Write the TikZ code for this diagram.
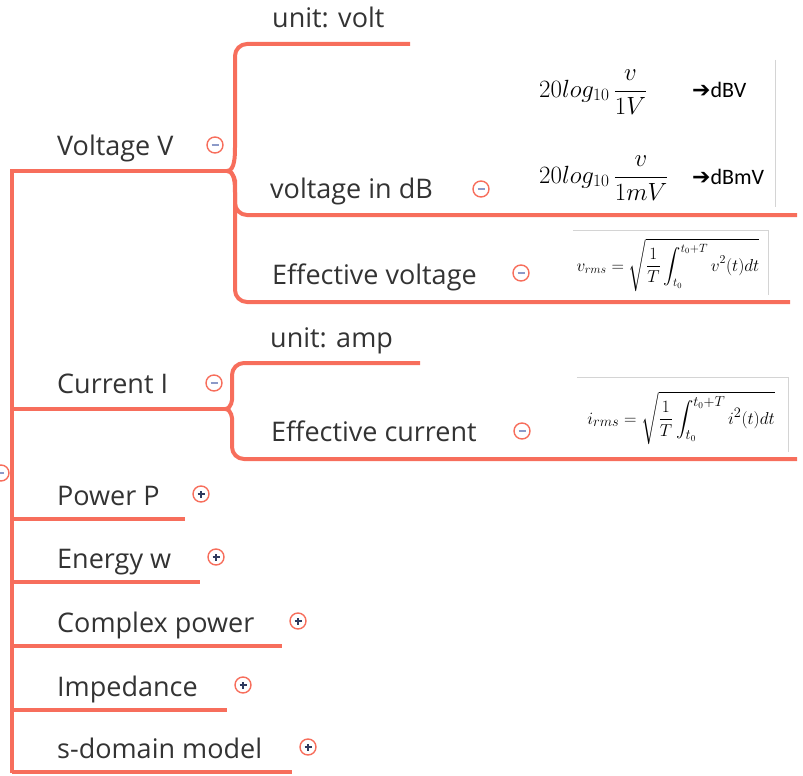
\documentclass[tikz,border=0pt]{standalone}
\usepackage{amsmath}
\usepackage{fontspec}
\setmainfont{Open Sans}
\newfontfamily\calib{Carlito}
\newfontfamily\dejavu{DejaVu Sans}
\usetikzlibrary{positioning,calc}
\definecolor{coral}{HTML}{F76E5C}
\definecolor{ink}{HTML}{333333}
\definecolor{minusc}{HTML}{8C9AC8}
\definecolor{plusc}{HTML}{2F3A5E}
\definecolor{frame}{HTML}{D4D4D4}
\newcommand{\tgminus}{\tikz\draw[minusc,line width=1.6pt] (-3.5pt,0) -- (3.5pt,0);}
\newcommand{\tgplus}{\tikz\draw[plusc,line width=1.4pt] (-3.5pt,0) -- (3.5pt,0) (0,-3.5pt) -- (0,3.5pt);}

\begin{document}
\begin{tikzpicture}[x=1pt,y=-1pt,
 lbl/.style={anchor=base west,inner sep=0pt,text=ink,font=\fontsize{27}{32}\selectfont},
 br/.style={draw=coral,line width=4pt},
 tg/.style={circle,draw=coral,fill=white,line width=1.4pt,minimum size=16pt,inner sep=0pt},
 fm/.style={inner sep=0pt,font=\fontsize{24}{28}\selectfont},
 unitlbl/.style={inner sep=0pt,anchor=west,font=\fontsize{22}{26}\selectfont\calib},
 imgbox/.style={inner sep=0pt,minimum width=#1},
 edge/.style={draw=frame,line width=1pt}]
\useasboundingbox (0,0) rectangle (803,776);
% branch points
\coordinate (rt) at (12,773);
\coordinate (vbr) at (227,171);
\coordinate (cbr) at (225,409);
% ends of the lines
\coordinate (uvolt-e) at (410,44);
\coordinate (vdb-e) at (797,215);
\coordinate (veff-e) at (790,302);
\coordinate (uamp-e) at (420,363);
\coordinate (ieff-e) at (797,459);
% main trunk
\draw[br] (rt) |- (vbr);
\draw[br] (rt |- cbr) -- (cbr);
\node[lbl] (volt) at (57,155) {Voltage V};
\node[tg] (volt-t) at (215,145) {\tgminus};
\node[lbl] (cur) at (57,393) {Current I};
\node[tg] (cur-t) at (214,383) {\tgminus};
\node[tg] (root-t) at (1,473) {\tgminus};
% collapsed topics
\foreach \n/\txt/\y/\xe in {power/Power P/519/185,energy/Energy w/582/200,cpower/Complex power/646/282,imped/Impedance/710/227,sdom/s-domain model/772/292}{
 \coordinate (\n-e) at (\xe,\y);
 \draw[br] (rt |- \n-e) -- (\n-e);
 \node[lbl] (\n) at ($(57,\y)+(0,-14)$) {\txt};
 \node[tg] (\n-t) at ($(\n-e)+(16,-25)$) {\tgplus};
}
% voltage children
\draw[br,rounded corners=12pt] (vbr) .. controls (235,171) and (235,155) .. (235,135) |- (uvolt-e);
\draw[br,rounded corners=12pt] (vbr) .. controls (235,171) and (235,185) .. (235,192) |- (vdb-e);
\draw[br,rounded corners=12pt] (vbr) .. controls (235,171) and (235,185) .. (235,205) |- (veff-e);
\node[lbl] (uvolt) at (272,28) {unit: volt};
\node[lbl] (vdb) at (270,198) {voltage in dB};
\node[tg] (vdb-t) at (481,189) {\tgminus};
\node[lbl] (veff) at (272,284) {Effective voltage};
\node[tg] (veff-t) at (521,273) {\tgminus};
% current children
\draw[br,rounded corners=12pt] (cbr) .. controls (232,409) and (232,398) .. (232,388) |- (uamp-e);
\draw[br,rounded corners=12pt] (cbr) .. controls (232,409) and (232,420) .. (232,430) |- (ieff-e);
\node[lbl] (uamp) at (270,347) {unit: amp};
\node[lbl] (ieff) at (271,441) {Effective current};
\node[tg] (ieff-t) at (522,431) {\tgminus};
% formula pictures
\node[imgbox=242pt,minimum height=147pt] (dbbox) at (654,133.5) {};
\draw[edge] (dbbox.north east) -- (dbbox.south east);
\node[fm,anchor=west] (dbv) at (539,92) {$\displaystyle 20log_{10}\,\frac{v}{1V}$};
\node[unitlbl] (dbv-u) at (692,90) {{\dejavu\bfseries ➔}dBV};
\node[fm,anchor=west] (dbmv) at (539,178) {$\displaystyle 20log_{10}\,\frac{v}{1mV}$};
\node[unitlbl] (dbmv-u) at (692,177) {{\dejavu\bfseries ➔}dBmV};
\node[imgbox=195pt,minimum height=64pt] (vbox) at (670.5,263) {};
\draw[edge] (vbox.north west) -| (vbox.south east);
\node[fm,font=\fontsize{17}{20}\selectfont] (vrms) at (668,265) {$v_{rms}=\sqrt{\dfrac{1}{T}\displaystyle\int_{t_0}^{t_0+T}v^2(t)dt}$};
\node[imgbox=211pt,minimum height=74pt] (ibox) at (682.5,415) {};
\draw[edge] (ibox.north west) -| (ibox.south east);
\node[fm,font=\fontsize{19}{22}\selectfont] (irms) at (681,418) {$i_{rms}=\sqrt{\dfrac{1}{T}\displaystyle\int_{t_0}^{t_0+T}i^2(t)dt}$};
\end{tikzpicture}
\end{document}
